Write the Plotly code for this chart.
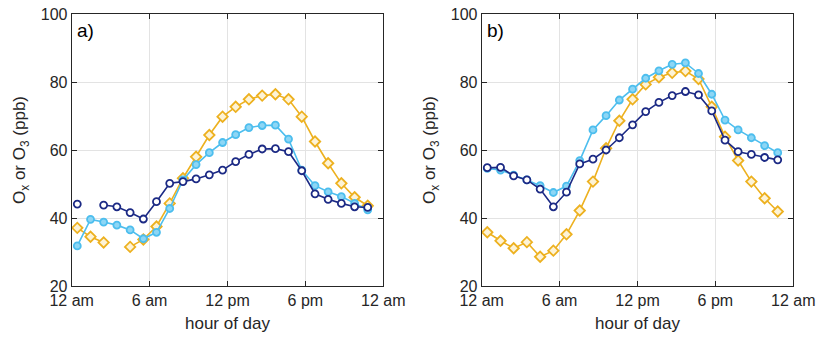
import plotly.graph_objects as go

hours = [0.43, 1.45, 2.46, 3.48, 4.5, 5.52, 6.53, 7.55, 8.57, 9.58, 10.6, 11.62,
         12.63, 13.65, 14.67, 15.69, 16.7, 17.72, 18.74, 19.75, 20.77, 21.79, 22.8]

a_orange = [37.1, 34.5, 32.8, None, 31.5, 33.7, 37.5, 44.3, 51.7, 58.0, 64.4, 69.8,
            72.7, 74.9, 76.0, 76.4, 74.9, 69.8, 62.5, 56.1, 50.2, 46.1, 43.6]
a_light = [31.8, 39.6, 38.8, 37.9, 36.5, 33.9, 35.8, 42.8, 51.2, 55.7, 59.2, 62.2,
           64.5, 66.6, 67.2, 67.3, 63.2, 54.1, 49.5, 47.7, 46.3, 44.3, 42.4]
a_dark = [44.1, None, 43.8, 43.3, 41.6, 39.7, 44.8, 50.2, 50.7, 51.5, 52.7, 54.1,
          56.6, 58.7, 60.3, 60.4, 59.5, 53.9, 47.1, 45.5, 44.3, 43.3, 43.1]

b_orange = [35.8, 33.3, 31.1, 32.9, 28.6, 30.4, 35.2, 42.2, 50.7, 60.5, 68.6, 74.9,
            79.3, 81.4, 82.7, 83.2, 80.9, 72.7, 63.9, 56.9, 50.7, 45.8, 41.9]
b_light = [54.6, 54.1, 52.6, 51.2, 49.5, 47.5, 49.4, 56.9, 65.9, 70.1, 74.7, 77.9,
           81.1, 83.3, 85.2, 85.6, 82.5, 76.4, 68.8, 65.9, 63.6, 61.3, 59.2]
b_dark = [54.8, 54.9, 52.4, 51.2, 48.5, 43.3, 47.6, 55.9, 57.3, 60.0, 63.6, 67.4,
          71.3, 74.0, 76.0, 77.2, 76.2, 71.5, 62.9, 59.5, 58.7, 57.8, 57.1]

x_tickvals = [0, 6, 12, 18, 24]
x_ticktext = ["12 am", "6 am", "12 pm", "6 pm", "12 am"]
y_tickvals = [20, 40, 60, 80, 100]
panel_labels = ["a)", "b)"]

ORANGE = "#EDB120"
LIGHT = "#4DBEEE"
DARK = "#1c2a85"

fig = go.Figure()

panels = [(a_orange, a_light, a_dark), (b_orange, b_light, b_dark)]
for k, (orng, lt, dk) in enumerate(panels):
    xa = "x" if k == 0 else "x2"
    ya = "y" if k == 0 else "y2"
    fig.add_trace(go.Scatter(x=hours, y=orng, xaxis=xa, yaxis=ya, mode="lines+markers",
                             line=dict(color=ORANGE, width=1.6),
                             marker=dict(symbol="diamond", size=8, color="#fdf3d6",
                                         line=dict(color=ORANGE, width=1.8)),
                             connectgaps=False, showlegend=False))
    fig.add_trace(go.Scatter(x=hours, y=lt, xaxis=xa, yaxis=ya, mode="lines+markers",
                             line=dict(color=LIGHT, width=1.6),
                             marker=dict(symbol="circle", size=7, color="#8dd6f5",
                                         line=dict(color=LIGHT, width=1.8)),
                             connectgaps=False, showlegend=False))
    fig.add_trace(go.Scatter(x=hours, y=dk, xaxis=xa, yaxis=ya, mode="lines+markers",
                             line=dict(color=DARK, width=1.6),
                             marker=dict(symbol="circle", size=7, color="white",
                                         line=dict(color=DARK, width=1.8)),
                             connectgaps=False, showlegend=False))

W, H = 817, 339
ydom = [(H - 286) / H, (H - 14) / H]
xdom_a = [71.7 / W, 383.3 / W]
xdom_b = [481.7 / W, 793.3 / W]

FAM = "Liberation Sans, Arial, sans-serif"
font = dict(family=FAM, size=16, color="#262626")
tfont = dict(family=FAM, size=17, color="#262626")

def xaxis(dom, anchor):
    return dict(domain=dom, anchor=anchor, range=[0, 24], tickvals=x_tickvals,
                ticktext=x_ticktext, showgrid=True, gridcolor="#e3e3e3", gridwidth=1,
                showline=True, linecolor="#262626", linewidth=1, mirror="ticks",
                ticks="inside", ticklen=5, tickcolor="#262626", zeroline=False,
                tickfont=font, automargin=False,
                title=dict(text="hour of day", font=tfont, standoff=8))

def yaxis(anchor):
    return dict(domain=ydom, anchor=anchor, range=[20, 100], tickvals=y_tickvals,
                showgrid=True, gridcolor="#e3e3e3", gridwidth=1,
                showline=True, linecolor="#262626", linewidth=1, mirror="ticks",
                ticks="inside", ticklen=5, tickcolor="#262626", zeroline=False,
                tickfont=font, automargin=False,
                title=dict(text="O<sub>x</sub> or O<sub>3</sub> (ppb)", font=tfont,
                           standoff=10))

fig.update_layout(
    width=W, height=H, margin=dict(l=0, r=0, t=0, b=0, autoexpand=False),
    paper_bgcolor="white", plot_bgcolor="white",
    xaxis=xaxis(xdom_a, "y"), yaxis=yaxis("x"),
    xaxis2=xaxis(xdom_b, "y2"), yaxis2=yaxis("x2"),
    font=font,
)

for k, lab in enumerate(panel_labels):
    fig.add_annotation(text=lab, xref=("x domain" if k == 0 else "x2 domain"),
                       yref=("y domain" if k == 0 else "y2 domain"),
                       x=0.012, y=0.985, xanchor="left", yanchor="top", showarrow=False,
                       font=dict(family=FAM, size=19, color="black"))

fig.write_html("out.html", config={"displayModeBar": False},
               post_script="document.body.style.margin='0';document.body.style.overflow='hidden';")
